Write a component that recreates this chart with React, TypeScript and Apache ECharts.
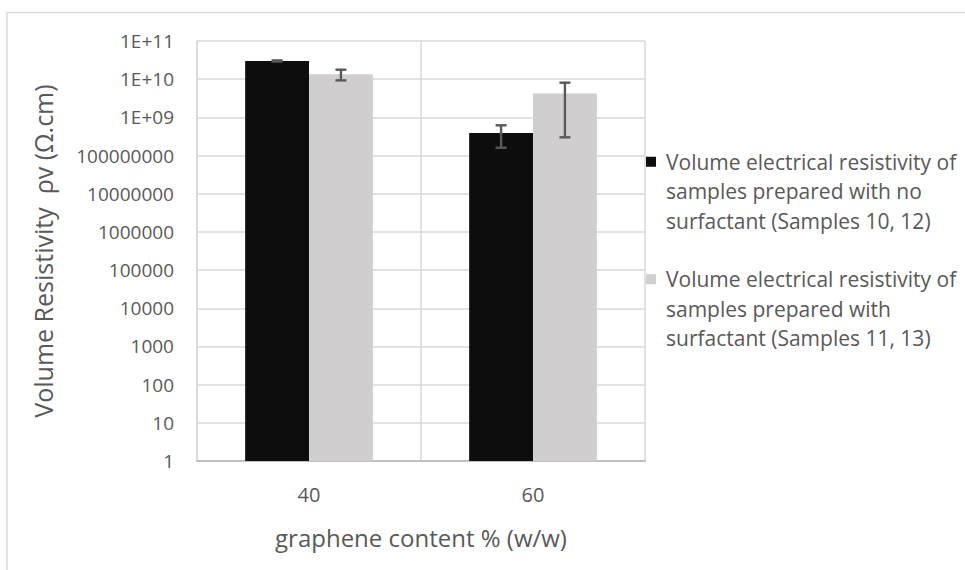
import React, { useEffect, useRef } from "react";
import * as echarts from "echarts";

const categories = ["40", "60"];
const seriesNames = [
  "Volume electrical resistivity of\nsamples prepared with no\nsurfactant (Samples 10, 12)",
  "Volume electrical resistivity of\nsamples prepared with\nsurfactant (Samples 11, 13)",
];
const noSurfactant = [3.0e10, 3.9e8];
const noSurfactantErr = [1.0e9, 2.3e8];
const withSurfactant = [1.35e10, 4.2e9];
const withSurfactantErr = [4.2e9, 3.9e9];

const FONT = "Open Sans";
const TXT = "#595959";
const GRID = "#d9d9d9";

function fmtTick(v: number): string {
  const e = Math.round(Math.log10(v));
  if (e >= 9) return "1E+" + (e < 10 ? "0" + e : String(e));
  return "1" + "0".repeat(e);
}

export default function App() {
  const ref = useRef<HTMLDivElement>(null);
  useEffect(() => {
    if (!ref.current) return;
    const chart = echarts.init(ref.current, null, { renderer: "svg" });
    const errData: number[][] = [];
    noSurfactant.forEach((v, i) => errData.push([i, v - noSurfactantErr[i], v + noSurfactantErr[i], 0]));
    withSurfactant.forEach((v, i) => errData.push([i, v - withSurfactantErr[i], v + withSurfactantErr[i], 1]));
    const gapPct = 0.43;
    chart.setOption({
      animation: false,
      backgroundColor: "#ffffff",
      textStyle: { fontFamily: FONT },
      graphic: [
        {
          type: "rect",
          shape: { x: 7, y: 12.5, width: 1000, height: 600 },
          style: { fill: "none", stroke: GRID, lineWidth: 1.5 },
          silent: true,
        },
      ],
      grid: { left: 197, right: 320, top: 41, bottom: 109, containLabel: false },
      legend: {
        data: seriesNames,
        orient: "vertical",
        left: 641,
        top: 142,
        icon: "path://M0,0H10V10H0Z M14.99,68.99H15V69H14.99Z",
        itemWidth: 15,
        itemHeight: 69,
        itemGap: 29,
        textStyle: { color: TXT, fontSize: 21, lineHeight: 29.5, fontFamily: FONT },
      },
      xAxis: {
        type: "category",
        data: categories,
        name: "graphene content % (w/w)",
        nameLocation: "middle",
        nameGap: 64,
        nameTextStyle: { color: TXT, fontSize: 24, fontFamily: FONT },
        axisLine: { lineStyle: { color: "#bfbfbf", width: 2 } },
        axisTick: { show: false },
        axisLabel: { color: TXT, fontSize: 20, margin: 23, fontFamily: FONT },
        splitLine: { show: true, lineStyle: { color: GRID, width: 1.5 } },
      },
      yAxis: {
        type: "log",
        logBase: 10,
        min: 1,
        max: 1e11,
        interval: 1,
        splitNumber: 11,
        name: "Volume Resistivity  ρv (Ω.cm)",
        nameLocation: "middle",
        nameGap: 142,
        nameRotate: 90,
        nameTextStyle: { color: TXT, fontSize: 25, fontFamily: FONT },
        axisLine: { show: true, lineStyle: { color: GRID, width: 1.5 } },
        axisTick: { show: false },
        axisLabel: { color: TXT, fontSize: 19, margin: 23, fontFamily: FONT, formatter: (v: number) => fmtTick(v) },
        splitLine: { show: true, lineStyle: { color: GRID, width: 1.5 } },
      },
      series: [
        {
          name: seriesNames[0],
          type: "bar",
          data: noSurfactant,
          barGap: "0%",
          barCategoryGap: gapPct * 100 + "%",
          itemStyle: { color: "#0d0d0d" },
        },
        {
          name: seriesNames[1],
          type: "bar",
          data: withSurfactant,
          barGap: "0%",
          barCategoryGap: gapPct * 100 + "%",
          itemStyle: { color: "#d0cece" },
        },
        {
          type: "custom",
          name: "error",
          silent: true,
          data: errData,
          encode: { x: 0, y: [1, 2] },
          renderItem: (params: any, api: any) => {
            const cat = api.value(0);
            const lo = api.value(1);
            const hi = api.value(2);
            const s = api.value(3);
            const band = api.size([1, 0])[0];
            const bw = (band * (1 - gapPct)) / 2;
            const off = s === 0 ? -bw / 2 : bw / 2;
            const p1 = api.coord([cat, hi]);
            const p2 = api.coord([cat, lo]);
            const x = p1[0] + off;
            const cap = 5.5;
            const st = { stroke: "#595959", lineWidth: 2.4 };
            return {
              type: "group",
              children: [
                { type: "line", shape: { x1: x, y1: p1[1], x2: x, y2: p2[1] }, style: st },
                { type: "line", shape: { x1: x - cap, y1: p1[1], x2: x + cap, y2: p1[1] }, style: st },
                { type: "line", shape: { x1: x - cap, y1: p2[1], x2: x + cap, y2: p2[1] }, style: st },
              ],
            };
          },
          z: 10,
        },
      ],
    });
    return () => chart.dispose();
  }, []);
  return <div ref={ref} style={{ position: "fixed", left: 0, top: 0, width: 965, height: 570 }} />;
}
